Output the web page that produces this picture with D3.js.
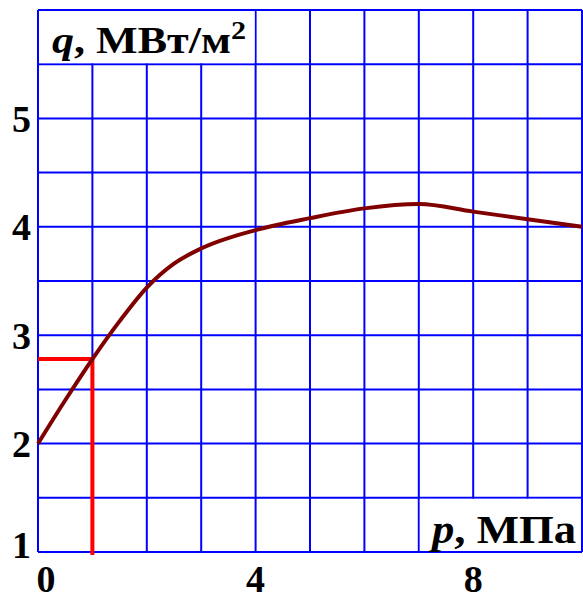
<!DOCTYPE html>
<html>
<head>
<meta charset="utf-8">
<script src="https://cdn.jsdelivr.net/npm/d3@7"></script>
<style>
  body { margin: 0; background: #fff; }
  text { font-family: "Liberation Serif", "Times New Roman", serif; font-weight: bold; }
</style>
</head>
<body>
<div id="vis"></div>
<script>
// data
const pValues = [0, 0.5, 1, 1.5, 2, 2.5, 3, 4, 5, 6, 7, 8, 9, 10]
const qValues = [2.0, 2.4, 2.78, 3.13, 3.44, 3.66, 3.8, 3.97, 4.08, 4.17, 4.21, 4.14, 4.07, 4.0]
const xTicks = [0, 4, 8]
const yTicks = [1, 2, 3, 4, 5]
const markerP = 1, markerQ = 2.78

const W = 583, H = 600
const svg = d3.select('#vis').append('svg')
    .attr('width', W).attr('height', H)

const xScale = d3.scaleLinear().domain([0, 10]).range([38, 582])
const yScale = d3.scaleLinear().domain([1, 6]).range([552, 10])

const grid = svg.append('g')
    .attr('stroke', '#0000ff').attr('stroke-width', 2)

// vertical grid lines every 1 MPa
d3.range(0, 11).forEach(v => {
    grid.append('line')
        .attr('x1', xScale(v)).attr('x2', xScale(v))
        .attr('y1', yScale(1)).attr('y2', yScale(6))
})
// horizontal grid lines every 0.5
d3.range(1, 6.01, 0.5).forEach(v => {
    grid.append('line')
        .attr('x1', xScale(0)).attr('x2', xScale(10))
        .attr('y1', yScale(v)).attr('y2', yScale(v))
})

// white boxes for the axis titles
svg.append('rect')
    .attr('x', xScale(0) + 1).attr('y', yScale(6) + 1)
    .attr('width', xScale(4) - xScale(0) - 2).attr('height', yScale(5.5) - yScale(6) - 2)
    .attr('fill', '#fff')
svg.append('rect')
    .attr('x', xScale(7) + 1).attr('y', yScale(1.5) + 1)
    .attr('width', xScale(10) - xScale(7) - 2).attr('height', yScale(1) - yScale(1.5) - 2)
    .attr('fill', '#fff')

// stretched a bit to match the wide serif of the original
const yTitle = svg.append('text')
    .attr('x', 52).attr('y', 53)
    .attr('textLength', 194).attr('lengthAdjust', 'spacingAndGlyphs')
    .style('font-size', '38px')
yTitle.append('tspan').style('font-style', 'italic').text('q')
yTitle.append('tspan').text(', МВт/м')
yTitle.append('tspan').attr('dy', -14).style('font-size', '26px').text('2')

const xTitle = svg.append('text')
    .attr('x', 432).attr('y', 543)
    .attr('textLength', 144).attr('lengthAdjust', 'spacingAndGlyphs')
    .style('font-size', '40px')
xTitle.append('tspan').style('font-style', 'italic').text('p')
xTitle.append('tspan').text(', МПа')

// red helper lines
svg.append('path')
    .attr('d', `M${xScale(0)},${yScale(markerQ)}H${xScale(markerP)}V${yScale(1) + 3}`)
    .attr('fill', 'none').attr('stroke', '#ff0000').attr('stroke-width', 4)

// curve
const line = d3.line()
    .x((d, i) => xScale(pValues[i]))
    .y(d => yScale(d))
    .curve(d3.curveMonotoneX)
svg.append('path')
    .datum(qValues)
    .attr('d', line)
    .attr('fill', 'none').attr('stroke', '#800000').attr('stroke-width', 4)

// tick labels
svg.selectAll('.ylab').data(yTicks).join('text')
    .attr('class', 'ylab')
    .attr('x', 31)
    .attr('y', d => d === 1 ? yScale(d) - 7 : yScale(d))
    .attr('dy', '0.35em')
    .attr('text-anchor', 'end')
    .style('font-size', '38px')
    .text(d => d)

svg.selectAll('.xlab').data(xTicks).join('text')
    .attr('class', 'xlab')
    .attr('x', d => d === 0 ? xScale(d) + 8 : xScale(d))
    .attr('y', 592)
    .attr('text-anchor', 'middle')
    .style('font-size', '38px')
    .text(d => d)
</script>
</body>
</html>
